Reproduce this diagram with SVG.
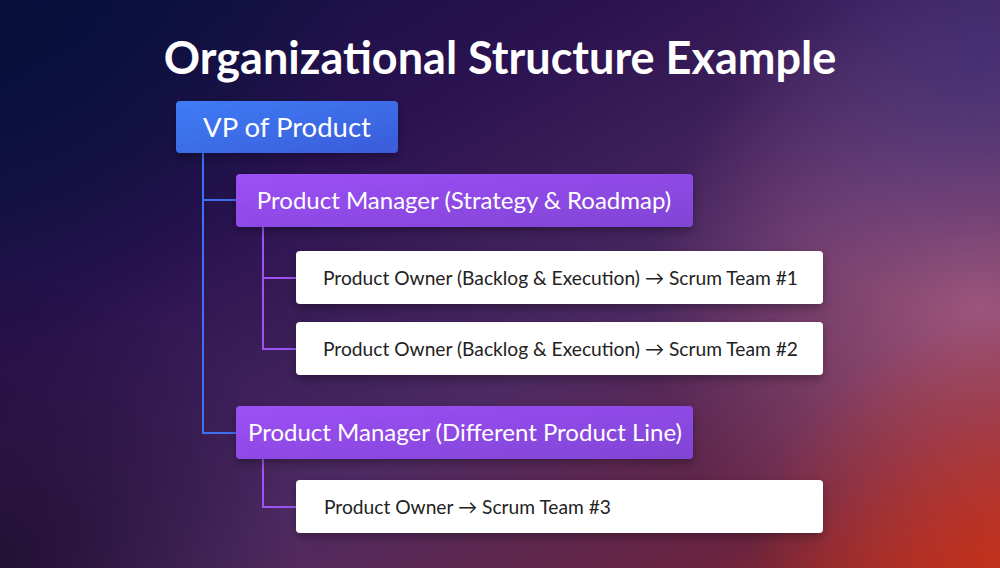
<svg xmlns="http://www.w3.org/2000/svg" width="1000" height="568" viewBox="0 0 1000 568">
<defs>
<linearGradient id="bg" x1="0" y1="0" x2="1" y2="1">
<stop offset="0" stop-color="#0b0f3e"/>
<stop offset="0.3" stop-color="#2a1250"/>
<stop offset="0.6" stop-color="#4e2a62"/>
<stop offset="0.85" stop-color="#6a2440"/>
<stop offset="1" stop-color="#a82818"/>
</linearGradient>
<radialGradient id="glow1" cx="980" cy="300" r="330" gradientUnits="userSpaceOnUse">
<stop offset="0" stop-color="#b86a90" stop-opacity="0.7"/>
<stop offset="1" stop-color="#b06a95" stop-opacity="0"/>
</radialGradient>
<radialGradient id="glow2" cx="1000" cy="568" r="250" gradientUnits="userSpaceOnUse">
<stop offset="0" stop-color="#c83018" stop-opacity="0.8"/>
<stop offset="1" stop-color="#c83018" stop-opacity="0"/>
</radialGradient>
<radialGradient id="glow3" cx="0" cy="0" r="350" gradientUnits="userSpaceOnUse">
<stop offset="0" stop-color="#05103a" stop-opacity="0.9"/>
<stop offset="1" stop-color="#05103a" stop-opacity="0"/>
</radialGradient>
<radialGradient id="glow4" cx="0" cy="568" r="300" gradientUnits="userSpaceOnUse">
<stop offset="0" stop-color="#1a0c2a" stop-opacity="0.8"/>
<stop offset="1" stop-color="#1a0c2a" stop-opacity="0"/>
</radialGradient>
<radialGradient id="glow5" cx="980" cy="60" r="250" gradientUnits="userSpaceOnUse">
<stop offset="0" stop-color="#3d2f78" stop-opacity="0.7"/>
<stop offset="1" stop-color="#3d2f78" stop-opacity="0"/>
</radialGradient>
<linearGradient id="blue" x1="0" y1="0" x2="1" y2="1">
<stop offset="0" stop-color="#3f7cf6"/>
<stop offset="1" stop-color="#3a5cd9"/>
</linearGradient>
<linearGradient id="purple" x1="0" y1="0" x2="1" y2="1">
<stop offset="0" stop-color="#9d50f7"/>
<stop offset="1" stop-color="#8044d4"/>
</linearGradient>
<filter id="sh" x="-10%" y="-30%" width="120%" height="170%">
<feDropShadow dx="0" dy="4" stdDeviation="5" flood-color="#000" flood-opacity="0.3"/>
</filter>
<style>
.t{font-family:Lato,"Noto Sans",sans-serif;}
.title{font-size:45px;font-weight:700;fill:#fff;}
.vp{font-size:27.5px;fill:#fff;}
.pm{font-size:24px;fill:#fff;}
.po{font-size:19.2px;fill:#222;}
.cb{stroke:#3f70f0;stroke-width:2;fill:none;}
.cp{stroke:#9a55f2;stroke-width:2;fill:none;}
</style>
</defs>
<rect width="1000" height="568" fill="url(#bg)"/>
<rect width="1000" height="568" fill="url(#glow1)"/>
<rect width="1000" height="568" fill="url(#glow2)"/>
<rect width="1000" height="568" fill="url(#glow3)"/>
<rect width="1000" height="568" fill="url(#glow4)"/>
<rect width="1000" height="568" fill="url(#glow5)"/>
<text class="t title" x="500" y="74" text-anchor="middle">Organizational Structure Example</text>
<g id="connectors">
<path class="cb" d="M203 153 V433 H236 M203 200 H236"/>
<path class="cp" d="M263 227 V349 H296 M263 278 H296"/>
<path class="cp" d="M263 459 V507 H296"/>
</g>
<g id="vp">
<rect x="176" y="101" width="222" height="52" rx="4" fill="url(#blue)" filter="url(#sh)"/>
<text class="t vp" x="287" y="137" text-anchor="middle">VP of Product</text>
</g>
<g id="pm1">
<rect x="236" y="174" width="457" height="53" rx="4" fill="url(#purple)" filter="url(#sh)"/>
<text class="t pm" x="464" y="209" text-anchor="middle">Product Manager (Strategy &amp; Roadmap)</text>
</g>
<g id="po1">
<rect x="296" y="251" width="527" height="53" rx="4" fill="#fff" filter="url(#sh)"/>
<text class="t po" x="323" y="284.5">Product Owner (Backlog &amp; Execution) → Scrum Team #1</text>
</g>
<g id="po2">
<rect x="296" y="322" width="527" height="53" rx="4" fill="#fff" filter="url(#sh)"/>
<text class="t po" x="323" y="355.5">Product Owner (Backlog &amp; Execution) → Scrum Team #2</text>
</g>
<g id="pm2">
<rect x="236" y="406" width="457" height="53" rx="4" fill="url(#purple)" filter="url(#sh)"/>
<text class="t pm" x="465" y="441" text-anchor="middle">Product Manager (Different Product Line)</text>
</g>
<g id="po3">
<rect x="296" y="480" width="527" height="53" rx="4" fill="#fff" filter="url(#sh)"/>
<text class="t po" x="324" y="513.5">Product Owner → Scrum Team #3</text>
</g>
</svg>
